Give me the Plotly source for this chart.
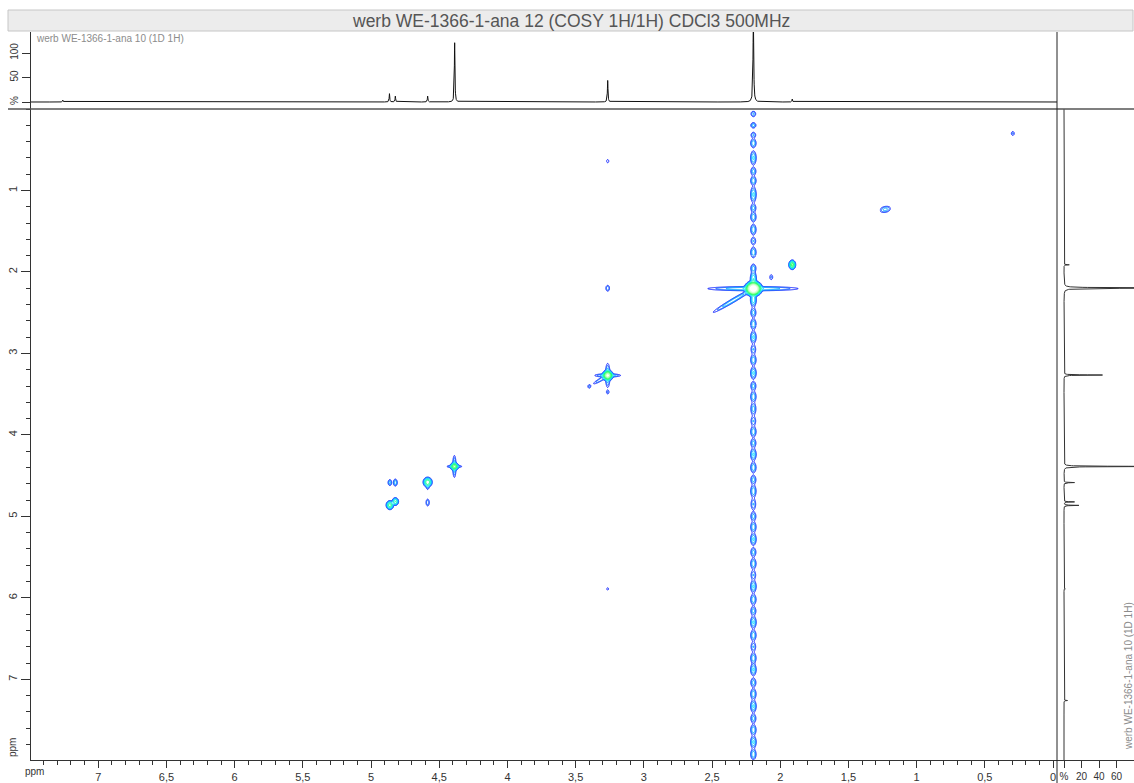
import numpy as np
import plotly.graph_objects as go

W, H = 1134, 783

TITLE = "werb WE-1366-1-ana 12 (COSY 1H/1H) CDCl3 500MHz"
SPEC_NAME = "werb WE-1366-1-ana 10 (1D 1H)"

# ---------------- 1D 1H projection (ppm, % height, half width ppm) ----------------
h1_shift = [7.260, 4.865, 4.822, 4.585, 4.387, 3.265, 2.197, 1.912, 5.890]
h1_height = [4.0, 17.0, 12.0, 12.0, 121.0, 44.0, 175.0, 6.0, 1.5]
h1_hwhm = [0.0025, 0.0025, 0.0025, 0.0025, 0.0025, 0.0025, 0.0030, 0.0025, 0.0025]

# ---------------- COSY contour components ----------------
# F2 (x) ppm, F1 (y) ppm, intensity, width1, width2 (ppm), 1 = oriented along diagonal
cosy_f2 = [2.197, 2.200, 2.197, 2.345, 1.912, 2.066, 1.230, 0.295, 3.265, 3.265,
           3.265, 3.265, 3.265, 3.315, 3.400, 3.265, 3.265, 4.389, 4.389, 4.389,
           4.585, 4.585, 4.862, 4.822, 4.585, 4.862, 4.822]
cosy_f1 = [2.205, 2.205, 2.205, 2.350, 1.912, 2.064, 1.232, 0.300, 0.640, 2.200,
           3.270, 3.270, 3.270, 3.320, 3.405, 3.475, 5.890, 4.387, 4.387, 4.387,
           4.580, 4.625, 4.585, 4.585, 4.830, 4.862, 4.818]
cosy_int = [600, 6, 8, 5, 40, 2, 4, 2, 1.6, 3,
            150, 6, 6, 3, 2, 1.8, 1.5, 60, 5, 5,
            30, 3, 4, 5, 3, 25, 18]
cosy_w1 = [0.019, 0.175, 0.010, 0.115, 0.0095, 0.009, 0.026, 0.009, 0.008, 0.009,
           0.013, 0.050, 0.009, 0.050, 0.008, 0.008, 0.007, 0.011, 0.030, 0.007,
           0.013, 0.007, 0.008, 0.008, 0.008, 0.011, 0.010]
cosy_w2 = [0.028, 0.014, 0.100, 0.011, 0.022, 0.025, 0.020, 0.020, 0.020, 0.024,
           0.022, 0.011, 0.078, 0.010, 0.018, 0.018, 0.016, 0.018, 0.009, 0.075,
           0.024, 0.030, 0.022, 0.024, 0.028, 0.022, 0.020]
cosy_diag = [0, 0, 0, 1, 0, 0, 1, 0, 0, 0,
             0, 0, 0, 1, 0, 0, 0, 0, 0, 0,
             0, 0, 0, 0, 0, 0, 0]

# t1-noise streak of the 2.20 ppm singlet: dash centres (F1 ppm), half lengths, intensity
streak_f2 = 2.197
streak_f1 = [0.06, 0.20, 0.32, 0.42, 0.60, 0.765, 0.88, 1.05, 1.215, 1.325,
             1.48, 1.62, 1.76, 1.955, 2.08, 2.35, 2.50, 2.64, 2.80, 2.95,
             3.08, 3.24, 3.40, 3.53, 3.68, 3.83, 3.96, 4.10, 4.24, 4.40,
             4.55, 4.69, 4.85, 5.00, 5.13, 5.28, 5.44, 5.58, 5.72, 5.86,
             6.02, 6.16, 6.30, 6.46, 6.60, 6.74, 6.88, 7.04, 7.18, 7.33,
             7.48, 7.62, 7.77, 7.92]
streak_half = [0.03, 0.03, 0.03, 0.05, 0.08, 0.045, 0.05, 0.09, 0.045, 0.055,
               0.06, 0.04, 0.06, 0.045, 0.07, 0.06, 0.05, 0.06, 0.07, 0.05,
               0.06, 0.07, 0.05, 0.06, 0.07, 0.05, 0.06, 0.05, 0.07, 0.06,
               0.05, 0.07, 0.06, 0.05, 0.06, 0.07, 0.05, 0.06, 0.05, 0.07,
               0.06, 0.05, 0.07, 0.06, 0.05, 0.06, 0.07, 0.05, 0.06, 0.07,
               0.05, 0.06, 0.07, 0.06]
streak_amp = [3, 4, 3, 5, 6, 4, 5, 6, 4, 5,
              5, 3, 5, 4, 6, 5, 4, 5, 6, 3,
              5, 6, 4, 5, 4, 3, 5, 4, 6, 5,
              4, 5, 3, 4, 5, 6, 4, 5, 3, 6,
              5, 4, 6, 5, 3, 5, 6, 4, 5, 6,
              4, 5, 6, 5]
streak_floor = 0.3
streak_w = 0.011

# ---------------- axis ticks ----------------
x_tick_vals = [7, 6.5, 6, 5.5, 5, 4.5, 4, 3.5, 3, 2.5, 2, 1.5, 1, 0.5, 0]
x_tick_text = ["7", "6,5", "6", "5,5", "5", "4,5", "4", "3,5", "3", "2,5", "2", "1,5", "1", "0,5", "0"]
y_tick_vals = [1, 2, 3, 4, 5, 6, 7]
y_tick_text = ["1", "2", "3", "4", "5", "6", "7"]
top_tick_vals = [0, 50, 100]
top_tick_text = ["%", "50", "100"]
side_tick_vals = [0, 20, 40, 60]
side_tick_text = ["%", "20", "40", "60"]

X_RANGE = [7.493, -0.029]
Y_RANGE = [7.99, 0.0]


def px(x):
    return x / W


def py(y):
    return 1 - y / H


# ---------------- build 1D trace ----------------
ppm = np.round(np.arange(-50, 8051) * 0.001, 4)
spec = np.zeros_like(ppm)
for s0, h, g in zip(h1_shift, h1_height, h1_hwhm):
    spec += h * g * g / ((ppm - s0) ** 2 + g * g)


# ---------------- build 2D surface ----------------
def cosy_surface(X, Y):
    Z = np.zeros_like(X)
    for x0, y0, a, s1, s2, d in zip(cosy_f2, cosy_f1, cosy_int, cosy_w1, cosy_w2, cosy_diag):
        dx = X - x0
        dy = Y - y0
        if d:
            u = (dx + dy) / np.sqrt(2)
            v = (dx - dy) / np.sqrt(2)
        else:
            u, v = dx, dy
        Z += a * np.exp(-0.5 * ((u / s1) ** 2 + (v / s2) ** 2))
    gx = np.exp(-0.5 * ((X - streak_f2) / streak_w) ** 2)
    Z += streak_floor * gx * ((Y > 0.03) & (Y < 7.99))
    for y0, hl, a in zip(streak_f1, streak_half, streak_amp):
        sig = hl / np.sqrt(2 * np.log(a))
        Z += a * gx * np.exp(-0.5 * ((Y - y0) / sig) ** 2)
    return np.log10(np.maximum(Z, 1e-2))


DX, DY = 0.0025, 0.004
patches = [
    (1.80, 2.62, 1.80, 2.66),
    (2.15, 2.245, 0.0, 1.80),
    (2.15, 2.245, 2.66, 7.99),
    (1.19, 1.27, 1.18, 1.29),
    (0.27, 0.32, 0.25, 0.35),
    (3.24, 3.29, 0.58, 0.70),
    (3.24, 3.29, 2.13, 2.27),
    (3.12, 3.46, 3.08, 3.54),
    (3.24, 3.29, 5.83, 5.95),
    (4.25, 4.95, 4.18, 4.95),
]

CS = [[0.0, '#0a1eff'], [0.1, '#0a64ff'], [0.2, '#00aaff'], [0.3, '#00e0ff'],
      [0.45, '#00ffa0'], [0.6, '#00ff40'], [0.8, '#a8ffa8'], [1.0, '#ffffff']]

fig = go.Figure()

for (x0, x1, y0, y1) in patches:
    xs = np.arange(int(round(x0 / DX)), int(round(x1 / DX)) + 1) * DX
    ys = np.arange(int(round(y0 / DY)), int(round(y1 / DY)) + 1) * DY
    XX, YY = np.meshgrid(xs, ys)
    Z = cosy_surface(XX, YY).astype(np.float32)
    fig.add_trace(go.Contour(
        x=xs, y=ys, z=Z, xaxis='x', yaxis='y',
        contours=dict(start=0, end=2.5, size=0.25, coloring='lines'),
        line=dict(width=1.0), colorscale=CS, zmin=0, zmax=2.5, zauto=False,
        showscale=False, hoverinfo='skip'))

# top projection
fig.add_trace(go.Scatter(x=ppm, y=spec, mode='lines', xaxis='x2', yaxis='y2',
                         line=dict(color='#111111', width=1), hoverinfo='skip'))
# side projection
fig.add_trace(go.Scatter(x=spec, y=ppm, mode='lines', xaxis='x3', yaxis='y3',
                         line=dict(color='#333333', width=1), hoverinfo='skip'))

FONT = 'Arial, "Liberation Sans", sans-serif'
axcol = '#333333'

fig.update_layout(
    width=W, height=H, margin=dict(l=0, r=0, t=0, b=0),
    paper_bgcolor='white', plot_bgcolor='white', showlegend=False,
    font=dict(family=FONT, size=11, color='#333333'),
    xaxis=dict(domain=[px(31), px(1057)], range=X_RANGE, anchor='y',
               showline=True, linecolor=axcol, linewidth=1, mirror=False,
               ticks='outside', ticklen=7, tickcolor=axcol, tickwidth=1,
               tickmode='array', tickvals=x_tick_vals, ticktext=x_tick_text,
               minor=dict(ticks='outside', ticklen=4, tickcolor=axcol, tickmode='linear',
                          tick0=0, dtick=0.1, showgrid=False),
               showgrid=False, zeroline=False, tickfont=dict(size=11)),
    yaxis=dict(domain=[py(760), py(109)], range=Y_RANGE, anchor='x',
               showline=True, linecolor=axcol, linewidth=1,
               ticks='outside', ticklen=9, tickcolor=axcol,
               tickmode='array', tickvals=y_tick_vals, ticktext=y_tick_text, tickangle=-90,
               minor=dict(ticks='outside', ticklen=4, tickcolor=axcol, tickmode='linear',
                          tick0=0, dtick=0.2, showgrid=False),
               showgrid=False, zeroline=False, tickfont=dict(size=11)),
    xaxis2=dict(domain=[px(31), px(1057)], matches='x', anchor='y2',
                showticklabels=False, ticks='', showline=False, showgrid=False, zeroline=False),
    yaxis2=dict(domain=[py(109), py(32)], range=[-14.3, 142.9], anchor='x2',
                showline=True, linecolor=axcol, linewidth=1,
                ticks='outside', ticklen=8, tickcolor=axcol,
                tickmode='array', tickvals=top_tick_vals, ticktext=top_tick_text, tickangle=-90,
                showgrid=False, zeroline=False, tickfont=dict(size=10)),
    xaxis3=dict(domain=[px(1057), 1.0], range=[-8, 80], anchor='y3',
                showline=True, linecolor=axcol, linewidth=1,
                ticks='outside', ticklen=7, tickcolor=axcol,
                tickmode='array', tickvals=side_tick_vals, ticktext=side_tick_text,
                showgrid=False, zeroline=False, tickfont=dict(size=10)),
    yaxis3=dict(domain=[py(760), py(109)], matches='y', anchor='x3',
                showticklabels=False, ticks='', showline=False, showgrid=False, zeroline=False),
    shapes=[
        dict(type='rect', xref='paper', yref='paper', x0=px(8), x1=px(1133), y0=py(31), y1=py(10),
             fillcolor='#ececec', line=dict(color='#c6c6c6', width=1), layer='below'),
        dict(type='line', xref='paper', yref='paper', x0=px(8), x1=1.0, y0=py(109), y1=py(109),
             line=dict(color='#555555', width=1.3)),
        dict(type='line', xref='paper', yref='paper', x0=px(1057), x1=px(1057), y0=0, y1=py(32),
             line=dict(color='#222222', width=1)),
    ],
    annotations=[
        dict(text=TITLE, xref='paper', yref='paper', x=px(571), y=py(20.5), showarrow=False,
             xanchor='center', yanchor='middle', font=dict(size=17.5, color='#555555')),
        dict(text=SPEC_NAME, xref='paper', yref='paper', x=px(34), y=py(38.5), showarrow=False,
             xanchor='left', yanchor='middle', font=dict(size=10, color='#8c8c8c')),
        dict(text=SPEC_NAME, xref='paper', yref='paper', x=px(1128), y=py(676), showarrow=False,
             textangle=-90, xanchor='center', yanchor='middle', font=dict(size=10, color='#8c8c8c')),
        dict(text='ppm', xref='paper', yref='paper', x=px(34), y=py(771), showarrow=False,
             xanchor='center', yanchor='middle', font=dict(size=10, color='#333333')),
        dict(text='ppm', xref='paper', yref='paper', x=px(12), y=py(748), showarrow=False,
             textangle=-90, xanchor='center', yanchor='middle', font=dict(size=10, color='#333333')),
    ],
)

fig.write_html("out.html", config={'displayModeBar': False},
               post_script="document.body.style.margin='0';document.body.style.overflow='hidden';")
